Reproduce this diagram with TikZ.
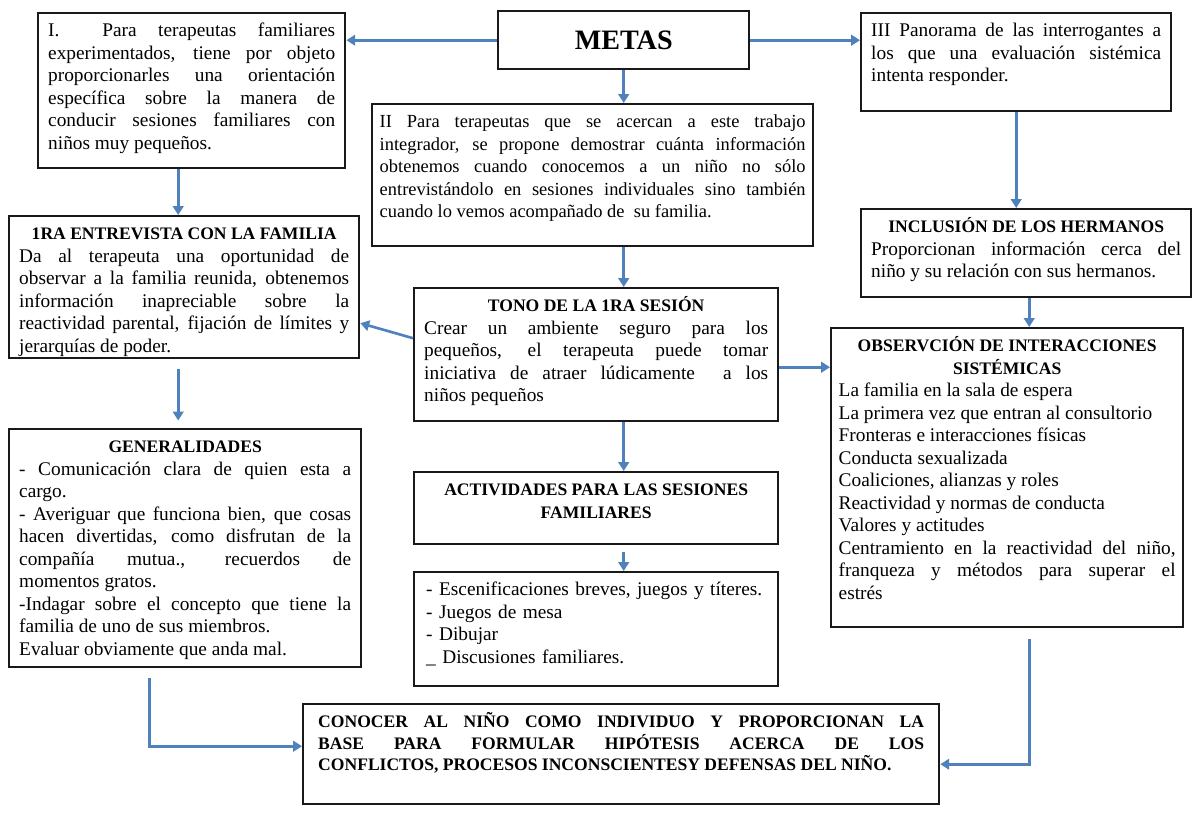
\documentclass[tikz,border=0pt]{standalone}
\usepackage{fontspec}
\setmainfont{Liberation Serif}
\usetikzlibrary{arrows.meta, calc}
\definecolor{linkblue}{RGB}{79,129,189}
\newcommand{\boxhead}[1]{{\centering\bfseries\fontsize{10}{12.8}\selectfont #1\par}}

\begin{document}
\begin{tikzpicture}[x=0.02cm, y=-0.02cm,
    box/.style={draw=black!90, line width=1.4pt, fill=white, anchor=north west,
        align=justify, inner xsep=0.2cm, inner ysep=0.15cm, text height=0.32cm,
        font=\fontsize{11}{12.8}\selectfont},
    link/.style={draw=linkblue, line width=1.5pt, -{Triangle[length=5pt,width=6pt]}}]
    \useasboundingbox (0,0) rectangle (1193,813);

    % Goals
    \node[draw=black!90, line width=1.4pt, anchor=north west, minimum width=5.02cm,
        minimum height=1.16cm, font=\fontsize{16}{18}\selectfont\bfseries] (metas) at (497,10) {METAS};

    % First row
    \node[box, text width=5.74cm, text depth=2.48cm] (ia) at (37,12)
        {I.\ \ Para terapeutas familiares\linebreak experimentados, tiene por objeto\linebreak
         proporcionarles una orientación\linebreak específica sobre la manera de\linebreak
         conducir sesiones familiares con\linebreak niños muy pequeños.};
    \node[box, text width=5.8cm, text depth=1.34cm] (iii) at (860,12)
        {III Panorama de las interrogantes a\linebreak los que una evaluación sistémica\linebreak
         intenta responder.};
    \node[box, inner xsep=0.15cm, text width=8.52cm, text depth=2.22cm,
        font=\fontsize{10.5}{12.8}\selectfont] (ii) at (371,103)
        {II Para terapeutas que se acercan a este trabajo\linebreak integrador, se propone demostrar cuánta información\linebreak
         obtenemos cuando conocemos a un niño no sólo\linebreak entrevistándolo en sesiones individuales sino también\linebreak
         cuando lo vemos acompañado de\ \ su familia.};

    % Second row
    \node[box, text width=6.6cm, text depth=2.22cm] (ent) at (8,215)
        {\boxhead{1RA ENTREVISTA CON LA FAMILIA}
         Da al terapeuta una oportunidad de\linebreak observar a la familia reunida, obtenemos\linebreak
         información inapreciable sobre la\linebreak reactividad parental, fijación de límites y\linebreak
         jerarquías de poder.};
    \node[box, text width=6.2cm, text depth=1.14cm] (incl) at (860,208)
        {\boxhead{INCLUSIÓN DE LOS HERMANOS}
         Proporcionan información cerca del\linebreak niño y su relación con sus hermanos.};
    \node[box, text width=6.88cm, text depth=2.04cm] (tono) at (413,287)
        {\boxhead{TONO DE LA 1RA SESIÓN}
         Crear un ambiente seguro para los\linebreak pequeños, el terapeuta puede tomar\linebreak
         iniciativa de atraer lúdicamente\ \ a los\linebreak niños pequeños};
    \node[box, inner xsep=0.15cm, text width=6.74cm, text depth=5.36cm] (obs) at (830,327)
        {\boxhead{OBSERVCIÓN DE INTERACCIONES\\ SISTÉMICAS}
         La familia en la sala de espera\\ La primera vez que entran al consultorio\\
         Fronteras e interacciones físicas\\ Conducta sexualizada\\
         Coaliciones, alianzas y roles\\ Reactividad y normas de conducta\\
         Valores y actitudes\\ Centramiento en la reactividad del niño,\linebreak
         franqueza y métodos para superar el\linebreak estrés};

    % Third row
    \node[box, text width=6.64cm, text depth=4.14cm] (gen) at (8,428)
        {\boxhead{GENERALIDADES}
         - Comunicación clara de quien esta a\linebreak cargo.\\
         - Averiguar que funciona bien, que cosas\linebreak hacen divertidas, como disfrutan de la\linebreak
         compañía mutua., recuerdos de\linebreak momentos gratos.\\
         -Indagar sobre el concepto que tiene la\linebreak familia de uno de sus miembros.\\
         Evaluar obviamente que anda mal.};
    \node[box, text width=6.88cm, text depth=0.82cm] (act) at (413,471)
        {\boxhead{ACTIVIDADES PARA LAS SESIONES\\ FAMILIARES}};
    \node[box, align=left, inner xsep=0.24cm, text width=6.8cm, text depth=1.66cm] (lst) at (413,571)
        {- Escenificaciones breves, juegos y títeres.\\ - Juegos de mesa\\ - Dibujar\\ \_ Discusiones familiares.};

    % Conclusion
    \node[box, inner xsep=0.3cm, text width=12.12cm, text depth=1.38cm,
        font=\fontsize{10}{12.3}\selectfont\bfseries] (con) at (302,703)
        {CONOCER AL NIÑO COMO INDIVIDUO Y PROPORCIONAN LA\linebreak BASE PARA FORMULAR HIPÓTESIS ACERCA DE LOS\linebreak
         CONFLICTOS, PROCESOS INCONSCIENTESY DEFENSAS DEL NIÑO.};

    % Links
    \draw[link] (metas.west) -- (metas.west -| ia.east);
    \draw[link] (metas.east) -- (metas.east -| iii.west);
    \draw[link] (metas.south) -- (metas.south |- ii.north);
    \draw[link] ([xshift=-0.27cm]ia.south) -- ([xshift=-0.27cm]ia.south |- ent.north);
    \draw[link] (iii.south) -- (iii.south |- incl.north);
    \draw[link] (ii.south -| metas.south) -- (tono.north -| metas.south);
    \draw[link] ([yshift=0.33cm]tono.west) -- ([yshift=-0.72cm]ent.east);
    \draw[link] ([yshift=-0.25cm]tono.east) -- ([yshift=-0.25cm]tono.east -| obs.west);
    \draw[link] ([xshift=0.06cm]incl.south) -- ([xshift=0.06cm]incl.south |- obs.north);
    \draw[link, shorten <=0.2cm, shorten >=0.15cm] ([xshift=-0.12cm]ent.south) -- ([xshift=-0.12cm]ent.south |- gen.north);
    \draw[link] (tono.south -| metas.south) -- (act.north -| metas.south);
    \draw[link, shorten <=0.14cm] (act.south -| metas.south) -- (lst.north -| metas.south);
    \draw[link, shorten <=0.2cm] ([xshift=-0.72cm]gen.south) |- ([yshift=0.16cm]con.west);
    \draw[link, shorten <=0.22cm] ([xshift=0.44cm]obs.south) |- ([yshift=-0.2cm]con.east);
\end{tikzpicture}
\end{document}
